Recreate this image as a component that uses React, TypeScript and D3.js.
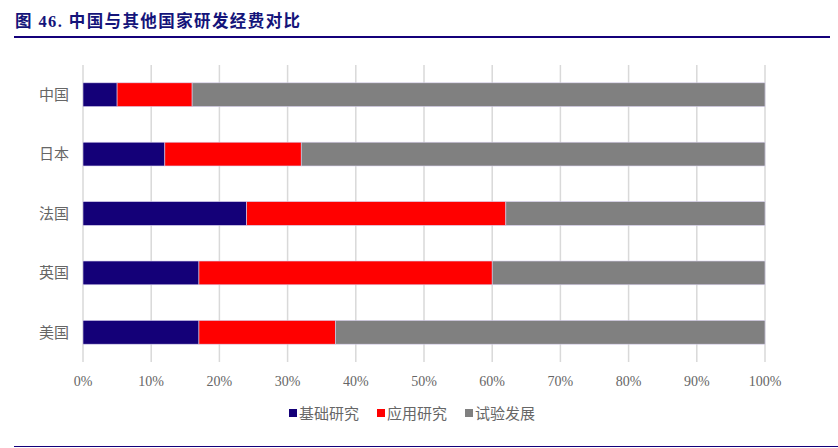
import React from "react";
import * as d3 from "d3";

const categories = ["中国", "日本", "法国", "英国", "美国"];
const seriesNames = ["基础研究", "应用研究", "试验发展"];
const basic = [5, 12, 24, 17, 17];
const applied = [11, 20, 38, 43, 20];
const experimental = [84, 68, 38, 40, 63];
const xTicks = [0, 10, 20, 30, 40, 50, 60, 70, 80, 90, 100];
const colors = ["#140078", "#ff0000", "#808080"];

const W = 838;
const H = 448;
const FONT = "'Liberation Serif', 'DejaVu Serif', 'Noto Sans CJK SC', serif";

export default function App() {
  const x = d3.scaleLinear().domain([0, 100]).range([83, 765]);
  const y = d3.scaleBand<string>().domain(categories).range([65, 362]).paddingInner(0.6).paddingOuter(0.3);

  const rows = categories.map((c, i) => ({ c, vals: [basic[i], applied[i], experimental[i]] }));
  const stack = d3.stack<{ c: string; vals: number[] }>()
    .keys(["0", "1", "2"])
    .value((d, k) => d.vals[+k]);
  const layers = stack(rows);

  const legendX = [289, 377, 465];

  return (
    <svg width={W} height={H} style={{ position: "absolute", left: 0, top: 0 }}>
      <text x={15} y={27} fontFamily="'Liberation Serif', 'Noto Sans CJK SC', serif" fontWeight="bold" fontSize={16.5} letterSpacing={1.4} fill="#14147a">
        图 46. 中国与其他国家研发经费对比
      </text>
      <line x1={14} x2={830} y1={37} y2={37} stroke="#14007a" strokeWidth={2} />
      {xTicks.map((t) => (
        <line key={t} x1={x(t)} x2={x(t)} y1={65} y2={362} stroke="#d9d9d9" strokeWidth={1.5} />
      ))}
      {layers.map((layer, li) => (
        <g key={li}>
          {layer.map((d, i) => (
            <rect
              key={i}
              x={x(d[0])}
              y={y(categories[i])}
              width={x(d[1]) - x(d[0])}
              height={y.bandwidth()}
              fill={colors[li]}
              stroke="#d8d0ee"
              strokeWidth={0.6}
            />
          ))}
        </g>
      ))}
      {categories.map((c) => (
        <text key={c} x={69} y={(y(c) as number) + y.bandwidth() / 2} dy="0.35em" textAnchor="end" fontFamily={FONT} fontSize={15} fill="#666">
          {c}
        </text>
      ))}
      {xTicks.map((t) => (
        <text key={t} x={x(t)} y={381} dy="0.35em" textAnchor="middle" fontFamily={FONT} fontSize={14} fill="#666">
          {t}%
        </text>
      ))}
      {seriesNames.map((s, i) => (
        <g key={s}>
          <rect x={legendX[i]} y={409} width={8} height={8} fill={colors[i]} />
          <text x={legendX[i] + 10} y={414} dy="0.35em" fontFamily={FONT} fontSize={15} fill="#666">
            {s}
          </text>
        </g>
      ))}
      <line x1={14} x2={838} y1={446.5} y2={446.5} stroke="#14007a" strokeWidth={1.2} />
    </svg>
  );
}
